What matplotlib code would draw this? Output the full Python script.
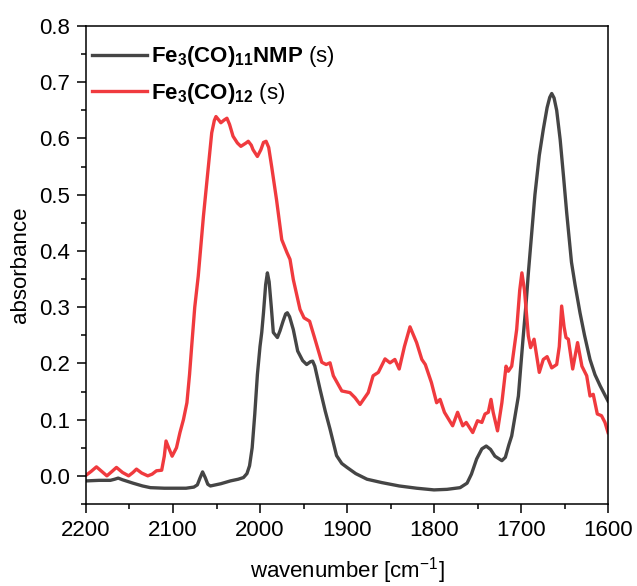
import matplotlib
matplotlib.use("Agg")
import matplotlib.pyplot as plt
from matplotlib.ticker import MultipleLocator

plt.rcParams.update({
    "font.family": ["Liberation Sans", "DejaVu Sans"],
    "mathtext.fontset": "custom",
    "mathtext.rm": "Liberation Sans",
    "mathtext.it": "Liberation Sans:italic",
    "mathtext.bf": "Liberation Sans:bold",
})

# ── Data ─────────────────────────────────────────────────────
nmp_wn = [2200, 2185, 2172, 2167, 2163, 2158, 2146, 2135, 2126, 2110, 2096, 2085,
          2076, 2072, 2069, 2066, 2063, 2060, 2057, 2045, 2034, 2025, 2019, 2015,
          2012, 2009, 2006, 2003, 2000, 1998, 1996, 1993.5, 1991.5, 1989.5, 1987,
          1984.7, 1980, 1977, 1973.5, 1970.5, 1968.6, 1966, 1961.7, 1956.7, 1951,
          1946.4, 1942, 1939.5, 1937, 1931, 1925, 1919.5, 1912, 1906, 1900, 1890,
          1877, 1860, 1840, 1820, 1800, 1785, 1770, 1762, 1757, 1751, 1745, 1740,
          1735, 1730, 1722, 1718, 1714, 1710.7, 1707, 1703, 1700, 1697.4, 1694,
          1691.6, 1689.6, 1684, 1679, 1674.4, 1670, 1667, 1664.7, 1662, 1659, 1655,
          1651, 1647.5, 1642, 1637.9, 1632.2, 1627, 1620.7, 1615, 1609, 1604, 1600]
nmp_abs = [-0.009, -0.008, -0.008, -0.006, -0.004, -0.007, -0.013, -0.018, -0.021,
           -0.022, -0.022, -0.022, -0.020, -0.016, -0.004, 0.007, -0.003, -0.015,
           -0.018, -0.014, -0.009, -0.006, -0.003, 0.004, 0.018, 0.050, 0.110,
           0.180, 0.230, 0.255, 0.290, 0.340, 0.361, 0.345, 0.300, 0.255, 0.246,
           0.258, 0.275, 0.288, 0.290, 0.283, 0.260, 0.222, 0.205, 0.198, 0.203,
           0.204, 0.195, 0.154, 0.115, 0.083, 0.036, 0.022, 0.015, 0.004, -0.006,
           -0.012, -0.018, -0.022, -0.025, -0.024, -0.021, -0.013, 0.003, 0.030,
           0.048, 0.053, 0.047, 0.035, 0.027, 0.033, 0.055, 0.071, 0.105, 0.142,
           0.200, 0.249, 0.310, 0.360, 0.397, 0.500, 0.570, 0.616, 0.655, 0.673,
           0.680, 0.672, 0.650, 0.598, 0.530, 0.468, 0.380, 0.340, 0.290, 0.250,
           0.207, 0.180, 0.160, 0.145, 0.133]

co12_wn = [2200, 2194, 2188, 2182, 2176, 2170, 2165, 2158, 2151, 2146, 2142, 2136,
           2129, 2124, 2119, 2113, 2110, 2108, 2105, 2101, 2096, 2092, 2088, 2084,
           2081, 2078.5, 2075, 2071, 2065, 2060, 2055.5, 2052.5, 2050.6, 2048, 2045,
           2041, 2038, 2035, 2031, 2026, 2022, 2016, 2013.5, 2010, 2008, 2003, 1999,
           1996, 1993, 1990, 1986.6, 1981, 1975, 1969, 1965.5, 1961.7, 1954, 1949.4,
           1943, 1936.8, 1929, 1924, 1919.5, 1915.7, 1906, 1896.6, 1890.8, 1885,
           1875.6, 1870, 1864, 1856.3, 1850.6, 1845, 1840, 1834, 1827.6, 1820, 1814,
           1810, 1803, 1797, 1793, 1788, 1778.6, 1772.9, 1767, 1763, 1755.5, 1750,
           1745, 1741.4, 1737.6, 1734.5, 1732, 1727, 1722, 1717.2, 1714.6, 1710.7,
           1705, 1701.5, 1699, 1696, 1691.6, 1689, 1685, 1679, 1674.4, 1670, 1664.7,
           1659, 1656, 1653.3, 1650.5, 1648.3, 1645.6, 1640.6, 1635, 1630, 1624.5,
           1620.7, 1617, 1612.3, 1607.5, 1603.5, 1600]
co12_abs = [0.001, 0.008, 0.016, 0.008, 0.000, 0.008, 0.015, 0.006, 0.000, 0.006,
            0.012, 0.005, 0.000, 0.003, 0.009, 0.010, 0.035, 0.062, 0.050, 0.035,
            0.050, 0.077, 0.100, 0.130, 0.180, 0.231, 0.300, 0.355, 0.462, 0.540,
            0.610, 0.632, 0.639, 0.634, 0.628, 0.633, 0.636, 0.625, 0.604, 0.592,
            0.586, 0.592, 0.595, 0.588, 0.580, 0.568, 0.580, 0.593, 0.595, 0.584,
            0.550, 0.491, 0.420, 0.397, 0.385, 0.349, 0.296, 0.281, 0.275, 0.243,
            0.202, 0.198, 0.201, 0.178, 0.151, 0.148, 0.139, 0.127, 0.148, 0.178,
            0.184, 0.208, 0.201, 0.207, 0.190, 0.230, 0.265, 0.237, 0.207, 0.198,
            0.166, 0.130, 0.136, 0.113, 0.089, 0.113, 0.089, 0.095, 0.077, 0.098,
            0.095, 0.110, 0.113, 0.136, 0.113, 0.080, 0.130, 0.195, 0.186, 0.195,
            0.260, 0.330, 0.361, 0.330, 0.249, 0.228, 0.243, 0.184, 0.207, 0.212,
            0.192, 0.198, 0.230, 0.302, 0.265, 0.246, 0.243, 0.190, 0.237, 0.195,
            0.178, 0.142, 0.145, 0.110, 0.107, 0.095, 0.077]

labels = [r"$\mathbf{Fe_3(CO)_{11}NMP}$ (s)", r"$\mathbf{Fe_3(CO)_{12}}$ (s)"]
colors = ["#454545", "#f03a3e"]

# ── Figure ───────────────────────────────────────────────────
fig = plt.figure(figsize=(6.37, 5.86), dpi=100)
ax = fig.add_axes([0.135, 0.140, 0.8195, 0.8156])

ax.plot(nmp_wn, nmp_abs, color=colors[0], lw=2.4, label=labels[0],
        solid_joinstyle="round")
ax.plot(co12_wn, co12_abs, color=colors[1], lw=2.4, label=labels[1],
        solid_joinstyle="round")

ax.set_xlim(2200, 1600)
ax.set_ylim(-0.05, 0.8)
ax.xaxis.set_major_locator(MultipleLocator(100))
ax.xaxis.set_minor_locator(MultipleLocator(50))
ax.yaxis.set_major_locator(MultipleLocator(0.1))
ax.yaxis.set_minor_locator(MultipleLocator(0.05))
ax.yaxis.set_major_formatter(plt.FormatStrFormatter("%.1f"))

ax.tick_params(which="both", direction="out", top=False, right=False,
               labelsize=16, width=1.1, pad=5)
ax.tick_params(which="major", length=6.5)
ax.tick_params(which="minor", length=3.5)
for sp in ax.spines.values():
    sp.set_linewidth(1.1)

ax.set_xlabel(r"wavenumber [cm$^{-1}$]", fontsize=16, labelpad=10)
ax.set_ylabel("absorbance", fontsize=16, labelpad=6)

ax.legend(loc="upper left", frameon=False, fontsize=16, handlelength=2.45,
          handletextpad=0.2, borderaxespad=0.0, labelspacing=0.5,
          bbox_to_anchor=(-0.005, 0.98))

fig.savefig("out.png", dpi=100)
plt.close(fig)
